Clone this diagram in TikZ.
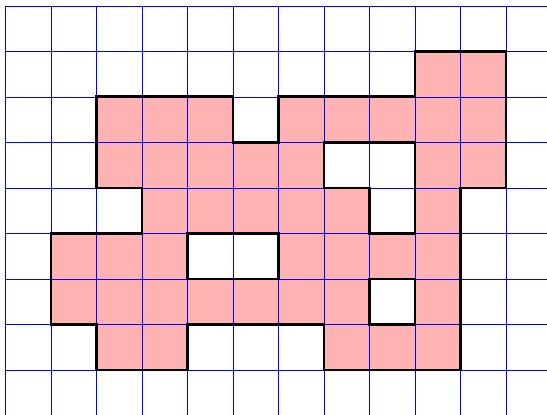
\documentclass[tikz,border=0pt]{standalone}
\begin{document}
\begin{tikzpicture}[scale=1]
\useasboundingbox (-0.12,0.03) rectangle (11.9,9.13);
% Figur aus Einheitsquadraten (aussen gegen Loecher, even odd)
\fill[red!30,even odd rule]
  (9,8) -- (11,8) -- (11,5) -- (10,5) -- (10,1) -- (7,1) -- (7,2)
  -- (4,2) -- (4,1) -- (2,1) -- (2,2) -- (1,2) -- (1,4) -- (3,4)
  -- (3,5) -- (2,5) -- (2,7) -- (5,7) -- (5,6) -- (6,6) -- (6,7)
  -- (9,7) -- cycle
  (7,6) -- (9,6) -- (9,4) -- (8,4) -- (8,5) -- (7,5) -- cycle
  (4,4) -- (6,4) -- (6,3) -- (4,3) -- cycle
  (8,3) -- (9,3) -- (9,2) -- (8,2) -- cycle;
% Gitter (blau)
\draw[blue,line width=0.5pt] (0,0) grid (12,9);
% Rand der Figur (kraeftig schwarz)
\draw[line width=1.8pt]
  (9,8) -- (11,8) -- (11,5) -- (10,5) -- (10,1) -- (7,1) -- (7,2)
  -- (4,2) -- (4,1) -- (2,1) -- (2,2) -- (1,2) -- (1,4) -- (3,4)
  -- (3,5) -- (2,5) -- (2,7) -- (5,7) -- (5,6) -- (6,6) -- (6,7)
  -- (9,7) -- cycle;
% Loecher
\draw[line width=1.8pt] (7,6) -- (9,6) -- (9,4) -- (8,4) -- (8,5) -- (7,5) -- cycle;
\draw[line width=1.8pt] (4,4) -- (6,4) -- (6,3) -- (4,3) -- cycle;
\draw[line width=1.8pt] (8,3) -- (9,3) -- (9,2) -- (8,2) -- cycle;
\end{tikzpicture}
\end{document}
